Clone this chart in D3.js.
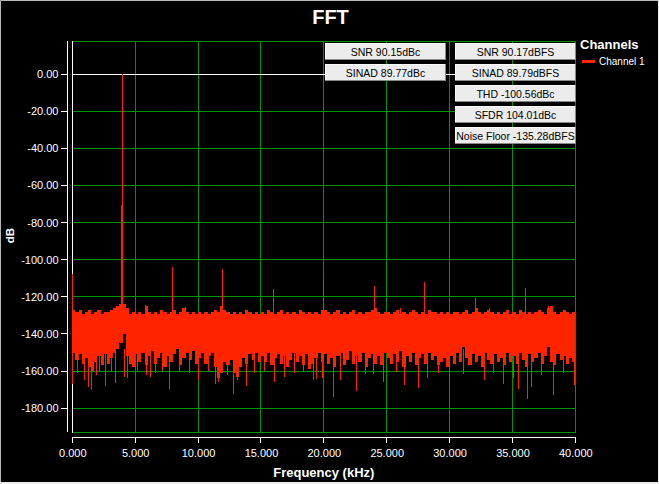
<!DOCTYPE html>
<html><head><meta charset="utf-8">
<script src="https://cdn.jsdelivr.net/npm/d3@7"></script>
<style>
body{margin:0;background:#000}
svg{display:block}
text{font-family:"Liberation Sans",Arial,sans-serif}
</style></head>
<body><svg id="c" width="659" height="484"></svg>
<script>
// ---------- data ----------
const title = "FFT";
const xLabel = "Frequency (kHz)";
const yLabel = "dB";
const xTicks = [0,5,10,15,20,25,30,35,40];
const xTickLabels = ["0.000","5.000","10.000","15.000","20.000","25.000","30.000","35.000","40.000"];
const yTicks = [0,-20,-40,-60,-80,-100,-120,-140,-160,-180];
const yTickLabels = ["0.00","-20.00","-40.00","-60.00","-80.00","-100.00","-120.00","-140.00","-160.00","-180.00"];
const legendTitle = "Channels";
const seriesName = "Channel 1";
const measuresLeft = ["SNR 90.15dBc","SINAD 89.77dBc"];
const measuresRight = ["SNR 90.17dBFS","SINAD 89.79dBFS","THD -100.56dBc","SFDR 104.01dBc","Noise Floor -135.28dBFS"];

// noise band, 0.25 kHz bins starting at 0 kHz: upper edge (dB)
const binWidth = 0.25;
const noiseTop = [
-127,-128,-127,-129,-128,-127,-129,-128,-127,-129,-128,-128,-127,-126,-125,-124,-124,-126,-129,-128,
-129,-128,-129,-125,-128,-129,-128,-129,-127,-128,-129,-128,-127,-129,-128,-126,-128,-129,-128,-129,
-128,-129,-128,-129,-128,-127,-128,-125,-127,-128,-129,-128,-129,-128,-129,-127,-128,-129,-128,-129,
-128,-129,-127,-128,-129,-128,-127,-129,-128,-129,-128,-129,-127,-128,-129,-128,-129,-128,-129,-127,
-127,-128,-129,-128,-127,-129,-128,-129,-128,-127,-129,-128,-129,-128,-128,-127,-126,-128,-129,-128,
-128,-129,-128,-127,-129,-128,-129,-128,-127,-128,-129,-128,-129,-127,-128,-128,-129,-128,-129,-128,
-129,-128,-128,-129,-128,-127,-129,-128,-126,-128,-129,-128,-127,-128,-129,-128,-129,-128,-127,-129,
-128,-129,-127,-128,-129,-128,-129,-128,-127,-128,-129,-126,-125,-128,-129,-128,-127,-128,-129,-128
];
// noise band lower edge (dB)
const noiseBottom = [
-150,-154,-151,-156,-153,-158,-160,-155,-152,-157,-151,-156,-153,-150,-148,-145,-140,-152,-156,-158,
-151,-155,-150,-157,-152,-149,-156,-153,-150,-158,-152,-155,-151,-148,-157,-153,-150,-154,-149,-156,
-153,-150,-156,-152,-150,-158,-164,-161,-155,-157,-154,-161,-163,-158,-153,-156,-151,-154,-150,-155,
-152,-155,-150,-157,-153,-151,-156,-152,-158,-154,-150,-155,-152,-157,-151,-159,-156,-153,-150,-155,
-151,-156,-153,-158,-152,-150,-157,-154,-149,-156,-152,-155,-150,-158,-153,-151,-156,-152,-157,-150,
-153,-156,-151,-155,-149,-158,-152,-155,-150,-157,-153,-151,-156,-150,-154,-152,-157,-155,-153,-158,
-152,-156,-150,-155,-147,-153,-157,-151,-155,-152,-158,-150,-154,-156,-151,-155,-153,-157,-150,-155,
-152,-156,-150,-154,-158,-151,-155,-153,-150,-156,-152,-147,-155,-157,-151,-154,-152,-156,-153,-155
];
// deep single-bin dips below the band [kHz, dB]
const dipFreq = [0.43,0.95,1.3,1.52,1.94,2.2,2.62,3.1,3.47,4.15,4.4,5.2,5.9,6.18,6.6,7.2,7.72,8.5,9.3,10.05,
10.8,11.4,11.6,12.3,12.85,13.1,13.87,14.5,15.3,16.1,16.9,17.7,18.4,19.17,19.4,19.9,20.75,21.3,22.56,23.28,
23.94,24.73,25.8,26.38,27.52,28.23,29.1,30.03,31.1,32.74,33.5,34.27,35.07,35.47,36.18,36.53,37.3,38.25,39.05,39.97];
const dipLevel = [-161,-164.6,-168.6,-170.4,-162,-160,-168,-160,-166.2,-163.2,-163.5,-160,-162,-163,-161,-160,-169.5,-160,-161,-165,
-160,-166.7,-166,-162,-172.5,-165,-168,-161,-160,-166,-163,-161,-160,-164.6,-164.5,-164,-174,-165,-170.5,-161.4,
-161.4,-165.9,-160.5,-167.7,-169,-164,-161,-167.7,-161.4,-164.6,-161,-166.7,-163.6,-169.4,-174.8,-168.6,-162,-173.1,-161,-167.7];
// small peaks above the band
const bumpFreq = [5.83,9.0,11.9,19.95,26.1,33.2,37.85];
const bumpLevel = [-124.5,-125.5,-124.8,-126.4,-125.8,-126,-125];
// fundamental, its skirt and harmonics
const toneFreq = 3.98, toneLevel = 0, toneFloor = -131;
const skirtFreq = [3.92,3.90];
const skirtLevel = [-70.7,-115.5];
const harmFreq = [7.96,11.98,15.98,20.0,24.02,28.02,32.04,36.02];
const harmLevel = [-103.9,-105.1,-116.0,-110.3,-114.1,-112.0,-120.4,-115.4];
const dcTop = -107.5, dcBottom = -166.7;

// ---------- drawing ----------
const svg = d3.select("#c");
const red = "#ff2400", grid = "#009400";
const plot = {l:72.33, r:575.33, t:41, b:432};
const x = d3.scaleLinear().domain([0,40]).range([plot.l, plot.r]);
const y = d3.scaleLinear().domain([-180,0]).range([408.2, 74]);
const px = v => Math.floor(v) + 0.5;

svg.append("rect").attr("width",659).attr("height",484).attr("fill","#000");
// outer frame
svg.append("path").attr("d","M0.5,483 V0.5 H658").attr("stroke","#b8b8b8").attr("fill","none");
svg.append("path").attr("d","M658.5,0 V482.5 H0").attr("stroke","#ececec").attr("fill","none");
svg.append("rect").attr("x",0).attr("y",482).attr("width",659).attr("height",2).attr("fill","#ececec");

// title
svg.append("text").attr("x",330.5).attr("y",24).attr("text-anchor","middle")
  .attr("fill","#fff").attr("font-size",20).attr("font-weight","bold").text(title);

const g = svg.append("g").attr("shape-rendering","crispEdges");
// grid
const gl = g.append("g").attr("stroke",grid).attr("stroke-width",1);
xTicks.filter(v=>v>0).forEach(v=>{
  gl.append("line").attr("x1",px(x(v))).attr("x2",px(x(v))).attr("y1",plot.t).attr("y2",plot.b);
});
yTicks.filter(v=>v<0).forEach(v=>{
  gl.append("line").attr("x1",plot.l).attr("x2",plot.r).attr("y1",px(y(v))).attr("y2",px(y(v)));
});
gl.append("line").attr("x1",plot.l).attr("x2",plot.r+1).attr("y1",px(plot.t)).attr("y2",px(plot.t));
gl.append("line").attr("x1",plot.l).attr("x2",plot.r+1).attr("y1",px(plot.b)).attr("y2",px(plot.b));
// zero lines in white
g.append("line").attr("x1",plot.l).attr("x2",plot.r).attr("y1",px(y(0))).attr("y2",px(y(0))).attr("stroke","#fff");
g.append("line").attr("x1",px(x(0))).attr("x2",px(x(0))).attr("y1",plot.t).attr("y2",plot.b+0.5).attr("stroke","#fff");

// noise band
const data = g.append("g");
data.selectAll("rect.bin").data(noiseTop).join("rect").attr("class","bin")
  .attr("x",(d,i)=>x(i*binWidth))
  .attr("width",(d,i)=>x((i+1)*binWidth)-x(i*binWidth))
  .attr("y",d=>y(d))
  .attr("height",(d,i)=>y(noiseBottom[i])-y(d))
  .attr("fill",red);
const vline = (f,a,b,w)=>data.append("line").attr("x1",px(x(f))).attr("x2",px(x(f)))
  .attr("y1",y(a)).attr("y2",y(b)).attr("stroke",red).attr("stroke-width",w||1);
dipFreq.forEach((f,i)=>vline(f,-148,dipLevel[i]));
bumpFreq.forEach((f,i)=>vline(f,bumpLevel[i],-130));
harmFreq.forEach((f,i)=>vline(f,harmLevel[i],-130));
skirtFreq.forEach((f,i)=>vline(f,skirtLevel[i],-130,i===0?2:1));
vline(toneFreq,toneLevel,toneFloor);
vline(0,dcTop,dcBottom);

// axes
const ax = svg.append("g").attr("shape-rendering","crispEdges").attr("stroke","#fff");
ax.append("line").attr("x1",67.5).attr("x2",67.5).attr("y1",plot.t).attr("y2",plot.b);
yTicks.forEach(v=>ax.append("line").attr("x1",61).attr("x2",67.5).attr("y1",px(y(v))).attr("y2",px(y(v))));
ax.append("line").attr("x1",plot.l).attr("x2",plot.r+1).attr("y1",437.5).attr("y2",437.5);
xTicks.forEach(v=>ax.append("line").attr("x1",px(x(v))).attr("x2",px(x(v))).attr("y1",437.5).attr("y2",443));

svg.append("g").selectAll("text").data(yTicks).join("text")
  .attr("x",58.5).attr("y",d=>y(d)+4).attr("text-anchor","end")
  .attr("fill","#fff").attr("font-size",11).text((d,i)=>yTickLabels[i]);
svg.append("g").selectAll("text").data(xTicks).join("text")
  .attr("x",d=>x(d)+0.5).attr("y",457).attr("text-anchor","middle")
  .attr("fill","#fff").attr("font-size",11).text((d,i)=>xTickLabels[i]);
svg.append("text").attr("x",(plot.l+plot.r)/2).attr("y",477).attr("text-anchor","middle")
  .attr("fill","#fff").attr("font-size",13).attr("font-weight","bold").text(xLabel);
svg.append("text").attr("transform","translate(13.5,235.5) rotate(-90)").attr("text-anchor","middle")
  .attr("fill","#fff").attr("font-size",11.5).attr("font-weight","bold").text(yLabel);

// measurement boxes
function box(x0,y0,w,h,label){
  const b = svg.append("g").attr("shape-rendering","crispEdges");
  b.append("rect").attr("x",x0).attr("y",y0).attr("width",w).attr("height",h).attr("fill","#ececec");
  b.append("path").attr("d",`M${x0+0.5},${y0+h} V${y0+0.5} H${x0+w}`).attr("stroke","#fcfcfc").attr("fill","none");
  b.append("path").attr("d",`M${x0},${y0+h-0.5} H${x0+w-0.5} V${y0}`).attr("stroke","#8a8a8a").attr("fill","none");
  svg.append("text").attr("x",x0+w/2).attr("y",y0+12.5).attr("text-anchor","middle")
    .attr("fill","#000").attr("font-size",10.5).text(label);
}
measuresLeft.forEach((m,i)=>box(325,43+21*i,121,17,m));
measuresRight.forEach((m,i)=>box(455,43+21*i,121,17,m));

// legend
svg.append("text").attr("x",580).attr("y",48.5).attr("fill","#fff").attr("font-size",13)
  .attr("font-weight","bold").text(legendTitle);
svg.append("rect").attr("x",582).attr("y",60).attr("width",13).attr("height",3).attr("fill",red);
svg.append("text").attr("x",599).attr("y",65).attr("fill","#fff").attr("font-size",10).text(seriesName);
</script></body></html>
